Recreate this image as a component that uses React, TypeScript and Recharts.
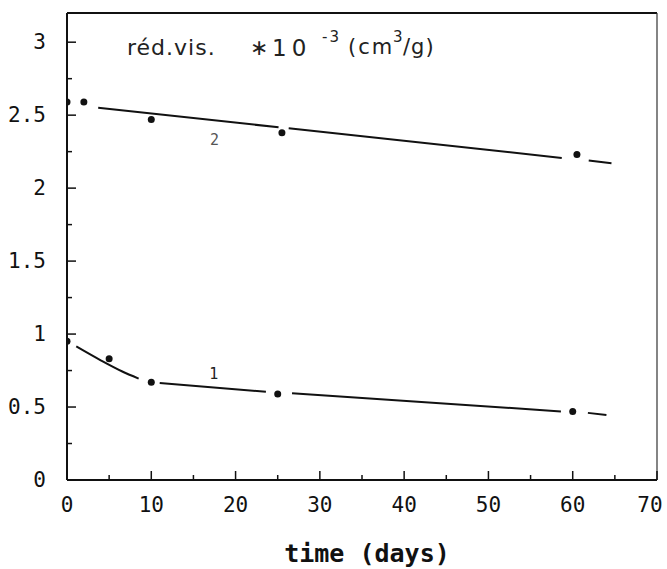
import { ComposedChart, Line, Scatter, XAxis, YAxis, ReferenceDot, ReferenceLine } from 'recharts';

const xTicks = [0, 5, 10, 15, 20, 25, 30, 35, 40, 45, 50, 55, 60, 65, 70];
const yTicks = [0, 0.25, 0.5, 0.75, 1, 1.25, 1.5, 1.75, 2, 2.25, 2.5, 2.75, 3];

// measured points, sample 1 and sample 2
const points1 = [
  { day: 0, vis: 0.95 },
  { day: 5, vis: 0.83 },
  { day: 10, vis: 0.67 },
  { day: 25, vis: 0.59 },
  { day: 60, vis: 0.47 },
];
const points2 = [
  { day: 0, vis: 2.59 },
  { day: 2, vis: 2.59 },
  { day: 10, vis: 2.47 },
  { day: 25.5, vis: 2.38 },
  { day: 60.5, vis: 2.23 },
];

// hand drawn trend lines, broken around the points
const trend1 = [
  { day: 1.1, vis: 0.915 },
  { day: 4, vis: 0.82 },
  { day: 6.5, vis: 0.745 },
  { day: 8.5, vis: 0.695 },
  { day: 9.8, vis: null },
  { day: 11, vis: 0.665 },
  { day: 23.6, vis: 0.605 },
  { day: 25, vis: null },
  { day: 26.7, vis: 0.595 },
  { day: 58.6, vis: 0.47 },
  { day: 60, vis: null },
  { day: 61.8, vis: 0.46 },
  { day: 64, vis: 0.445 },
];
const trend2 = [
  { day: 3.7, vis: 2.55 },
  { day: 25.1, vis: 2.417 },
  { day: 25.7, vis: null },
  { day: 26.3, vis: 2.41 },
  { day: 58.7, vis: 2.207 },
  { day: 60.5, vis: null },
  { day: 61.9, vis: 2.19 },
  { day: 64.6, vis: 2.17 },
];

const FONT = '"DejaVu Sans Mono", monospace';

function XTick(props: any) {
  const { x, y, payload } = props;
  const v = payload.value;
  const major = v % 10 === 0;
  return (
    <g>
      <line x1={x} x2={x} y1={y} y2={y - (major ? 9 : 5)} stroke="#111" strokeWidth={1.5} />
      {major && (
        <text x={v === 70 ? x - 7 : x} y={y + 32} textAnchor="middle" fontFamily={FONT} fontSize={21} fill="#111">
          {v}
        </text>
      )}
    </g>
  );
}

function YTick(props: any) {
  const { x, y, payload } = props;
  const v = payload.value;
  const major = (v * 2) % 1 === 0;
  return (
    <g>
      <line x1={x} x2={x + (major ? 9 : 5)} y1={y} y2={y} stroke="#111" strokeWidth={1.5} />
      {major && (
        <text x={x - 21} y={y + 7} textAnchor="end" fontFamily={FONT} fontSize={21} fill="#111">
          {v}
        </text>
      )}
    </g>
  );
}

const Dot = (props: any) => <circle cx={props.cx} cy={props.cy} r={3.5} fill="#111" />;

const titleBase: any = {
  position: 'absolute',
  fontFamily: '"DejaVu Sans", sans-serif',
  color: '#222',
  whiteSpace: 'pre',
  lineHeight: 1,
};

export default function App() {
  return (
    <div style={{ position: 'absolute', left: 0, top: 0, width: 667, height: 569, background: '#fff' }}>
      <ComposedChart width={667} height={569} margin={{ top: 13, right: 10, bottom: 5, left: 0 }}>
        <XAxis
          type="number"
          dataKey="day"
          domain={[0, 70]}
          ticks={xTicks}
          interval={0}
          tickSize={0}
          tickMargin={0}
          tick={<XTick />}
          height={84}
          axisLine={{ stroke: '#111', strokeWidth: 2 }}
          allowDataOverflow
          label={{
            value: 'time (days)',
            position: 'insideBottom',
            offset: 2,
            dx: 5,
            style: { fontFamily: FONT, fontSize: 25, fontWeight: 'bold', fill: '#111' },
          }}
        />
        <YAxis
          type="number"
          domain={[0, 3.2]}
          ticks={yTicks}
          interval={0}
          tickSize={0}
          tickMargin={0}
          tick={<YTick />}
          width={67}
          axisLine={{ stroke: '#111', strokeWidth: 2 }}
          allowDataOverflow
        />
        <ReferenceLine y={3.2} stroke="#111" strokeWidth={2} />
        <ReferenceLine x={70} stroke="#333" strokeWidth={1.2} />
        <Line data={trend1} dataKey="vis" type="monotone" stroke="#111" strokeWidth={2} dot={false} connectNulls={false} isAnimationActive={false} />
        <Line data={trend2} dataKey="vis" type="linear" stroke="#111" strokeWidth={2} dot={false} connectNulls={false} isAnimationActive={false} />
        <Scatter data={points1} dataKey="vis" shape={<Dot />} isAnimationActive={false} />
        <Scatter data={points2} dataKey="vis" shape={<Dot />} isAnimationActive={false} />
        <ReferenceDot x={17.4} y={0.73} r={0} label={{ value: '1', fontFamily: FONT, fontSize: 15, fill: '#222' }} />
        <ReferenceDot x={17.5} y={2.33} r={0} label={{ value: '2', fontFamily: FONT, fontSize: 15, fill: '#555' }} />
      </ComposedChart>
      <div style={{ ...titleBase, left: 127, top: 37, fontSize: 22, letterSpacing: 1 }}>réd.vis.</div>
      <div style={{ ...titleBase, left: 250, top: 37, fontSize: 22 }}>∗</div>
      <div style={{ ...titleBase, left: 272, top: 37, fontSize: 23, letterSpacing: 5 }}>10</div>
      <div style={{ ...titleBase, left: 322, top: 30, fontSize: 15, letterSpacing: 2 }}>-3</div>
      <div style={{ ...titleBase, left: 348, top: 37, fontSize: 21, letterSpacing: 2 }}>(cm</div>
      <div style={{ ...titleBase, left: 393, top: 30, fontSize: 15 }}>3</div>
      <div style={{ ...titleBase, left: 403, top: 37, fontSize: 21, letterSpacing: 1 }}>/g)</div>
    </div>
  );
}
